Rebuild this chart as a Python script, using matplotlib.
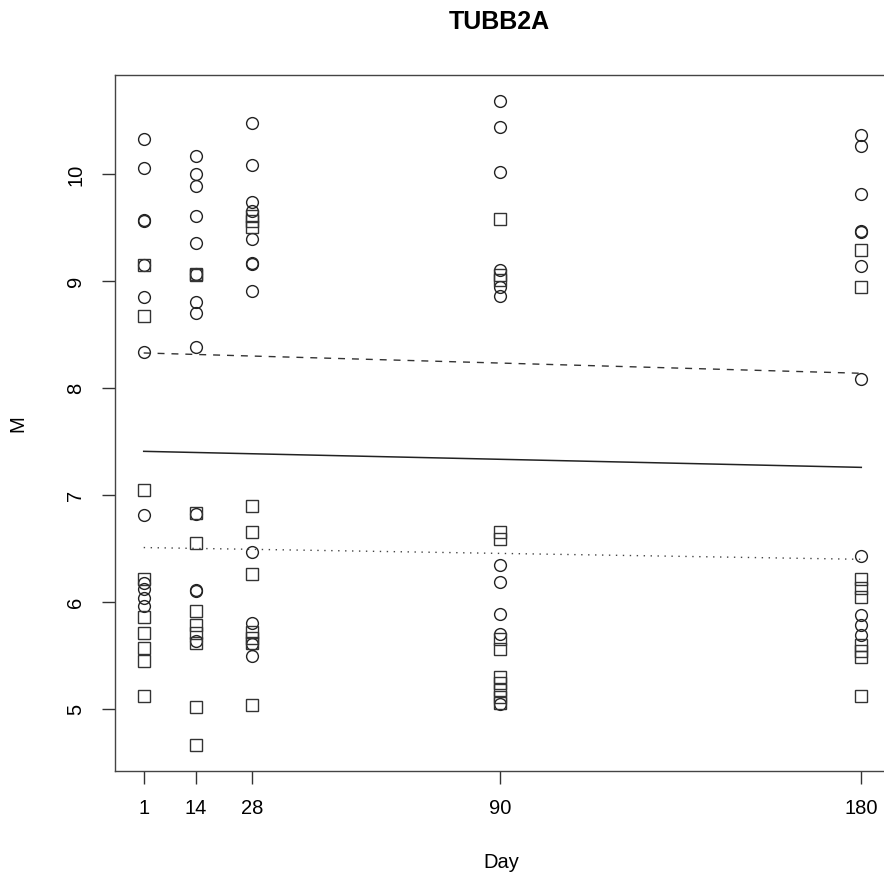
import matplotlib
matplotlib.use('Agg')
import matplotlib.pyplot as plt

plt.rcParams['font.family'] = ['Liberation Sans', 'DejaVu Sans']

# circle points (day, M)
circle_day = [1] * 12 + [14] * 13 + [28] * 12 + [90] * 11 + [180] * 11
circle_m = [10.33, 10.06, 9.57, 9.56, 9.15, 8.85, 8.34, 6.81, 6.18, 6.12, 6.04, 5.96,
            10.17, 10.00, 9.89, 9.61, 9.36, 9.07, 8.81, 8.70, 8.39, 6.82, 6.11, 6.10, 5.64,
            10.48, 10.09, 9.74, 9.66, 9.40, 9.17, 9.16, 8.91, 6.47, 5.80, 5.61, 5.50,
            10.69, 10.44, 10.02, 9.11, 8.95, 8.86, 6.35, 6.19, 5.89, 5.70, 5.05,
            10.37, 10.27, 9.82, 9.47, 9.46, 9.14, 8.09, 6.43, 5.88, 5.79, 5.69]

# square points (day, M)
square_day = [1] * 9 + [14] * 10 + [28] * 10 + [90] * 12 + [180] * 9
square_m = [9.15, 8.68, 7.05, 6.22, 5.86, 5.71, 5.57, 5.45, 5.12,
            9.07, 9.06, 6.83, 6.55, 5.92, 5.79, 5.71, 5.62, 5.02, 4.66,
            9.61, 9.56, 9.51, 6.90, 6.66, 6.26, 5.72, 5.66, 5.62, 5.04,
            9.58, 9.06, 9.01, 6.66, 6.59, 5.65, 5.56, 5.30, 5.24, 5.18, 5.11, 5.06,
            9.29, 8.95, 6.22, 6.13, 6.05, 5.60, 5.54, 5.49, 5.12]

# fitted lines: value at day 1 and day 180
line_days = [1, 180]
upper_line = [8.33, 8.14]
mid_line = [7.41, 7.26]
lower_line = [6.51, 6.40]

day_ticks = [1, 14, 28, 90, 180]
m_ticks = [5, 6, 7, 8, 9, 10]


def plotData():
    fig = plt.figure(figsize=(8.84, 8.82), dpi=100)
    ax = fig.add_axes([115 / 884, 1 - 771 / 882, 775 / 884, 696 / 882])

    ax.plot(circle_day, circle_m, 'o', ms=8.5, mfc='none', mec='#222222', mew=1.0)
    ax.plot(square_day, square_m, 's', ms=8, mfc='none', mec='#333333', mew=1.0)

    ax.plot(line_days, upper_line, color='#333333', lw=1.0, linestyle=(0, (5, 5)))
    ax.plot(line_days, mid_line, color='#222222', lw=1.1, linestyle='-')
    ax.plot(line_days, lower_line, color='#444444', lw=1.0, linestyle=(0, (1, 4)))

    ax.set_xlim(1 - 0.04 * 179, 180 + 0.04 * 179)
    ax.set_ylim(4.42, 10.93)
    ax.set_xticks(day_ticks)
    ax.set_xticklabels([str(d) for d in day_ticks])
    ax.set_yticks(m_ticks)
    ax.set_yticklabels([str(m) for m in m_ticks], rotation=90, va='center')
    ax.tick_params(direction='out', length=9.5, width=1.0, labelsize=14.5,
                   color='#333333')
    ax.tick_params(axis='x', pad=11)
    ax.tick_params(axis='y', pad=12)
    for s in ax.spines.values():
        s.set_linewidth(1.0)
        s.set_color('#444444')
    # the right edge of the box falls outside the picture
    ax.spines['right'].set_visible(False)

    fig.text(499 / 884, 1 - 22 / 882, 'TUBB2A', ha='center', va='center',
             fontsize=18, fontweight='bold')
    fig.text(501 / 884, 1 - 862 / 882, 'Day', ha='center', va='center', fontsize=14.5)
    fig.text(18 / 884, 1 - 424 / 882, 'M', ha='center', va='center', fontsize=14.5,
             rotation=90)

    fig.savefig('out.png', dpi=100)


if __name__ == '__main__':
    plotData()
